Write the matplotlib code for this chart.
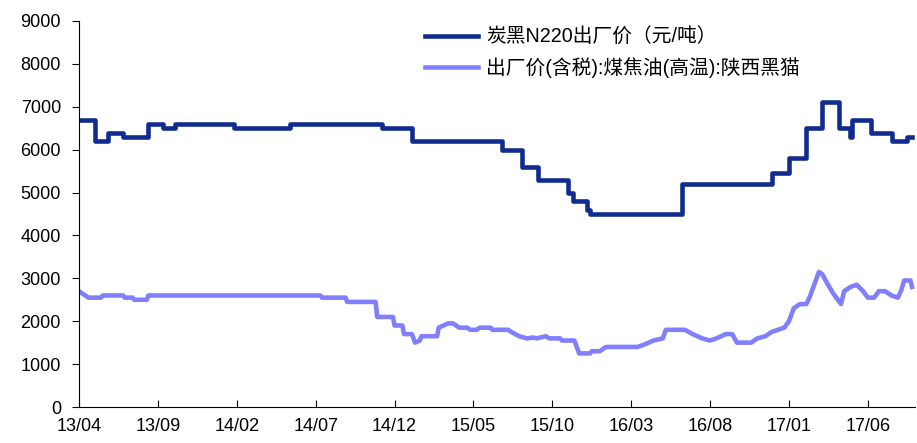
import matplotlib.pyplot as plt
import numpy as np

# x values are months counted from 2013/04
tick_labels = ["13/04", "13/09", "14/02", "14/07", "14/12", "15/05",
               "15/10", "16/03", "16/08", "17/01", "17/06"]

# carbon black N220 ex-factory price, step changes
cb_month = [0, 1.0, 1.85, 2.8, 4.4, 5.3, 6.1, 9.8, 13.4, 19.2, 21.1, 26.8,
            28.1, 29.1, 31.0, 31.3, 32.2, 32.4, 38.2, 43.9, 45.0, 46.1, 47.1,
            48.2, 48.9, 49.0, 50.2, 51.5, 52.5, 52.8]
cb_price = [6700, 6200, 6400, 6300, 6600, 6500, 6600, 6500, 6600, 6500, 6200,
            6000, 5600, 5300, 5000, 4800, 4600, 4500, 5200, 5450, 5800, 6500,
            7100, 6500, 6300, 6700, 6400, 6200, 6300, 6300]

# coal tar (high temp) ex-factory price, Shaanxi Heimao
ct_month = [0, 0.6, 1.4, 1.5, 2.8, 2.9, 3.4, 3.5, 4.3, 4.4, 15.3, 15.4, 16.9,
            17.0, 18.8, 18.9, 19.9, 20.0, 20.5, 20.6, 21.1, 21.3, 21.6, 21.7,
            22.7, 22.8, 23.4, 23.7, 24.1, 24.6, 24.8, 25.2, 25.4, 26.1, 26.2,
            27.2, 27.4, 27.9, 28.4, 28.8, 29.0, 29.6, 29.8, 30.5, 30.6, 31.4,
            31.7, 32.4, 32.5, 33.0, 33.4, 35.4, 35.8, 36.4, 37.0, 37.2, 38.4,
            38.9, 39.5, 40.0, 40.4, 41.0, 41.4, 41.7, 42.6, 43.0, 43.5, 43.9,
            44.3, 44.7, 45.0, 45.3, 45.7, 46.1, 46.3, 46.6, 46.9, 47.1, 47.4,
            47.8, 48.2, 48.3, 48.5, 48.9, 49.3, 49.7, 50.0, 50.4, 50.7, 51.1,
            51.5, 51.9, 52.1, 52.3, 52.7, 52.8]
ct_price = [2700, 2550, 2550, 2600, 2600, 2550, 2550, 2500, 2500, 2600, 2600,
            2550, 2550, 2450, 2450, 2100, 2100, 1900, 1900, 1700, 1700, 1500,
            1550, 1650, 1650, 1850, 1950, 1950, 1850, 1850, 1800, 1800, 1850,
            1850, 1800, 1800, 1750, 1650, 1600, 1620, 1600, 1650, 1600, 1600,
            1550, 1550, 1250, 1250, 1300, 1300, 1400, 1400, 1450, 1550, 1600,
            1800, 1800, 1700, 1600, 1550, 1600, 1700, 1700, 1500, 1500, 1600,
            1650, 1750, 1800, 1850, 2000, 2300, 2400, 2400, 2550, 2850, 3150,
            3100, 2900, 2650, 2450, 2400, 2700, 2800, 2850, 2700, 2550, 2550,
            2700, 2700, 2600, 2550, 2700, 2950, 2950, 2800]

plt.rcParams['font.family'] = ['Liberation Sans', 'Noto Sans CJK SC', 'DejaVu Sans']

fig = plt.figure(figsize=(9.17, 4.43), dpi=100)
ax = fig.add_axes([79 / 917, 36 / 443, 1 - 79 / 917 - 0.002, (407 - 21) / 443])

ax.plot(cb_month, cb_price, drawstyle='steps-post', color='#102C8E', lw=3.3,
        label='炭黑N220出厂价（元/吨）')
ax.plot(ct_month, ct_price, color='#8080FF', lw=3.3,
        label='出厂价(含税):煤焦油(高温):陕西黑猫')

ax.set_xlim(0, 53)
ax.set_ylim(0, 9000)
ax.set_yticks(np.arange(0, 9001, 1000))
ax.set_xticks(np.arange(len(tick_labels)) * 5)
ax.set_xticklabels(tick_labels)

for s in ['top', 'right']:
    ax.spines[s].set_visible(False)
ax.tick_params(axis='y', direction='out', length=5, labelsize=13, pad=8)
ax.tick_params(axis='x', direction='in', length=5, labelsize=13, pad=8)

leg = fig.legend(loc='upper left', bbox_to_anchor=(425 / 917, 1 - 28 / 443),
                 frameon=False, fontsize=14.2, handlelength=2.7,
                 handletextpad=0.4, labelspacing=0.5, borderpad=0,
                 borderaxespad=0)

fig.savefig('out.png', dpi=100)
